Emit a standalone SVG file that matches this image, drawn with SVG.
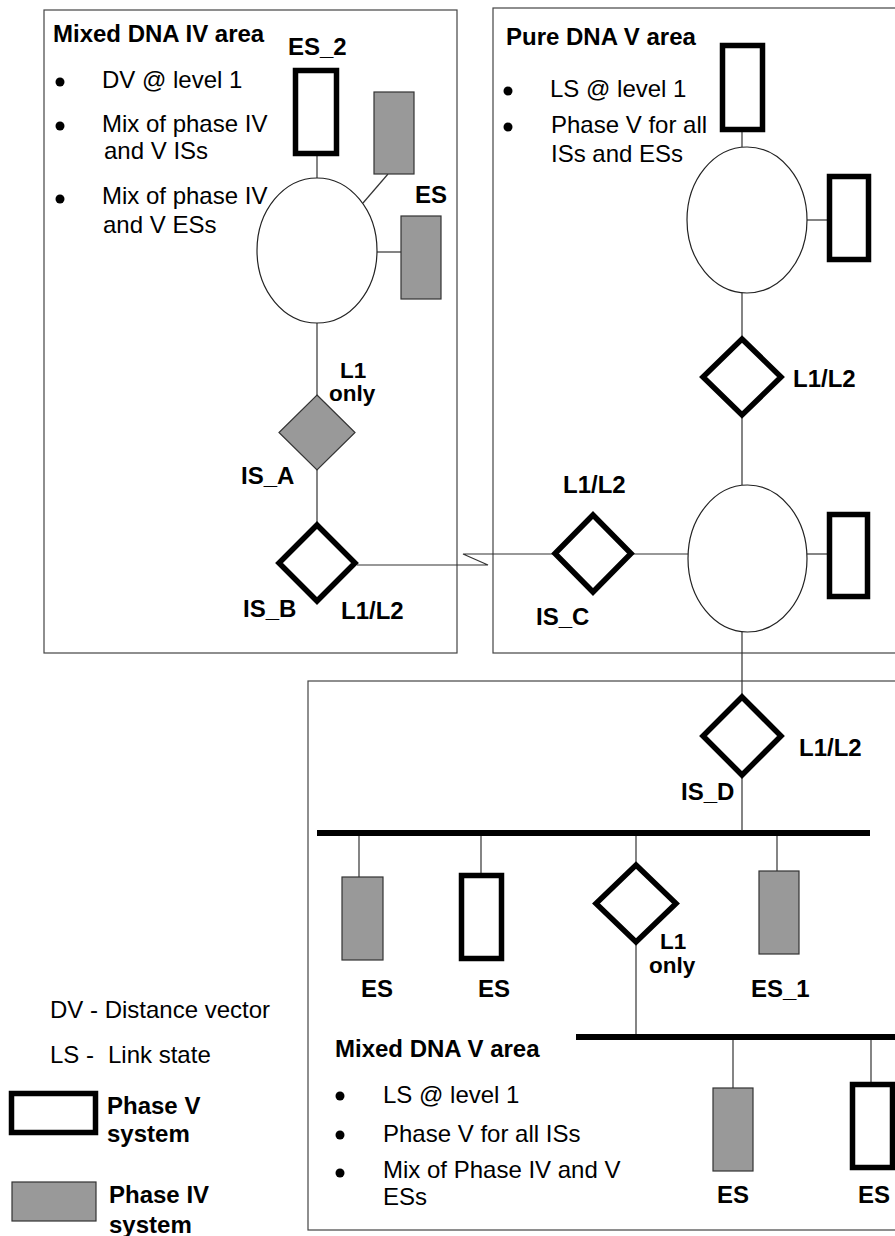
<svg xmlns="http://www.w3.org/2000/svg" width="895" height="1236" viewBox="0 0 895 1236">
<style>
text{font-family:"Liberation Sans",Arial,sans-serif;font-size:24px;fill:#000}
.b{font-weight:bold}
.s{font-size:22.5px}
.area{fill:none;stroke:#444;stroke-width:1.2}
.ln{fill:none;stroke:#333;stroke-width:1.2}
.bus{stroke:#000;stroke-width:6}
.p5{fill:#fff;stroke:#000;stroke-width:5.5}
.p4{fill:#999;stroke:#333;stroke-width:1.2}
.lan{fill:#fff;stroke:#222;stroke-width:1.2}
.dot{fill:#000}
</style>
<rect width="895" height="1236" fill="#fff"/>

<g id="areas">
<rect class="area" x="44" y="10" width="413" height="643"/>
<rect class="area" x="493" y="8" width="410" height="645"/>
<rect class="area" x="308" y="681" width="595" height="549"/>
</g>

<g id="connectors">
<line class="ln" x1="317" y1="156" x2="317" y2="178"/>
<line class="ln" x1="363" y1="203" x2="388" y2="174"/>
<line class="ln" x1="377" y1="252" x2="401" y2="252"/>
<line class="ln" x1="317" y1="323" x2="317" y2="395"/>
<line class="ln" x1="317" y1="470" x2="317" y2="523"/>
<polyline class="ln" points="357,565 488,565 463,554 553,554"/>
<line class="ln" x1="633" y1="554" x2="688" y2="554"/>
<line class="ln" x1="807" y1="554" x2="827" y2="554"/>
<line class="ln" x1="742" y1="132" x2="742" y2="147"/>
<line class="ln" x1="807" y1="220" x2="827" y2="220"/>
<line class="ln" x1="742" y1="293" x2="742" y2="337"/>
<line class="ln" x1="742" y1="417" x2="742" y2="485"/>
<line class="ln" x1="742" y1="632" x2="742" y2="695"/>
<line class="ln" x1="742" y1="777" x2="742" y2="833"/>
<line class="ln" x1="359" y1="833" x2="359" y2="877"/>
<line class="ln" x1="481" y1="833" x2="481" y2="873"/>
<line class="ln" x1="636" y1="833" x2="636" y2="863"/>
<line class="ln" x1="777" y1="833" x2="777" y2="871"/>
<line class="ln" x1="636" y1="944" x2="636" y2="1037"/>
<line class="ln" x1="733" y1="1037" x2="733" y2="1088"/>
<line class="ln" x1="871" y1="1037" x2="871" y2="1082"/>
<line class="bus" x1="317" y1="833" x2="870" y2="833"/>
<line class="bus" x1="576" y1="1037" x2="900" y2="1037"/>
</g>

<g id="mixed-dna-iv-text">
<text class="b" x="53" y="42">Mixed DNA IV area</text>
<circle class="dot" cx="60" cy="82" r="4.5"/>
<text x="102" y="88">DV @ level 1</text>
<circle class="dot" cx="60" cy="126" r="4.5"/>
<text x="102" y="132">Mix of phase IV</text>
<text x="104" y="159">and V ISs</text>
<circle class="dot" cx="60" cy="199" r="4.5"/>
<text x="102" y="204">Mix of phase IV</text>
<text x="103" y="233">and V ESs</text>
</g>

<g id="lan-a"><ellipse class="lan" cx="317" cy="250.5" rx="60" ry="72.5"/></g>
<g id="es-2"><rect class="p5" x="295.5" y="70.5" width="41" height="83"/><text class="b" x="288" y="55">ES_2</text></g>
<g id="es-a1"><rect class="p4" x="374" y="92" width="40" height="82"/></g>
<g id="es-a2"><rect class="p4" x="401" y="216" width="40" height="83"/><text class="b" x="415" y="203">ES</text></g>
<g id="is-a"><polygon class="p4" points="317,395 355,432.5 317,470 279,432.5"/>
<text class="b s" x="340" y="378">L1</text><text class="b s" x="329" y="401">only</text>
<text class="b" x="241" y="484">IS_A</text></g>
<g id="is-b"><polygon class="p5" points="317,525 355,563 317,601 279,563"/>
<text class="b" x="243" y="617">IS_B</text><text class="b" x="341" y="619">L1/L2</text></g>

<g id="pure-dna-v-text">
<text class="b" x="506" y="45">Pure DNA V area</text>
<circle class="dot" cx="508" cy="91" r="4.5"/>
<text x="550" y="97">LS @ level 1</text>
<circle class="dot" cx="508" cy="127" r="4.5"/>
<text x="551" y="133">Phase V for all</text>
<text x="551" y="162">ISs and ESs</text>
</g>
<g id="es-top"><rect class="p5" x="722.5" y="45.5" width="40" height="84"/></g>
<g id="lan-b"><ellipse class="lan" cx="747" cy="220" rx="60" ry="73"/></g>
<g id="es-b1"><rect class="p5" x="829.5" y="176.5" width="39" height="83"/></g>
<g id="is-v"><polygon class="p5" points="742,339 781,377 742,415 703,377"/><text class="b" x="793" y="387">L1/L2</text></g>
<g id="lan-c"><ellipse class="lan" cx="747.5" cy="558.5" rx="59.5" ry="73.5"/></g>
<g id="es-c1"><rect class="p5" x="829.5" y="514.5" width="38" height="82"/></g>
<g id="is-c"><polygon class="p5" points="593,515 631,553.5 593,592 555,553.5"/>
<text class="b" x="563" y="493">L1/L2</text><text class="b" x="536" y="625">IS_C</text></g>

<g id="is-d"><polygon class="p5" points="742,697 781,736 742,775 703,736"/>
<text class="b" x="799" y="756">L1/L2</text><text class="b" x="681" y="800">IS_D</text></g>
<g id="es-d1"><rect class="p4" x="342" y="877" width="41" height="83"/><text class="b" x="361" y="997">ES</text></g>
<g id="es-d2"><rect class="p5" x="461.5" y="875.5" width="40" height="83"/><text class="b" x="478" y="997">ES</text></g>
<g id="is-e"><polygon class="p5" points="636,865 676,903.5 636,942 596,903.5"/>
<text class="b s" x="660" y="949">L1</text><text class="b s" x="649" y="973">only</text></g>
<g id="es-1"><rect class="p4" x="759" y="871" width="40" height="83"/><text class="b" x="751" y="997">ES_1</text></g>
<g id="es-e1"><rect class="p4" x="713" y="1088" width="40" height="83"/><text class="b" x="717" y="1203">ES</text></g>
<g id="es-e2"><rect class="p5" x="852.5" y="1084.5" width="40" height="83"/><text class="b" x="858" y="1203">ES</text></g>

<g id="mixed-dna-v-text">
<text class="b" x="335" y="1057">Mixed DNA V area</text>
<circle class="dot" cx="340" cy="1096" r="4.5"/>
<text x="383" y="1103">LS @ level 1</text>
<circle class="dot" cx="340" cy="1135" r="4.5"/>
<text x="383" y="1142">Phase V for all ISs</text>
<circle class="dot" cx="340" cy="1173" r="4.5"/>
<text x="383" y="1178">Mix of Phase IV and V</text>
<text x="383" y="1205">ESs</text>
</g>

<g id="legend">
<text x="50" y="1018">DV - Distance vector</text>
<text x="50" y="1063">LS -<tspan x="108">Link state</tspan></text>
<rect class="p5" x="11.5" y="1093.5" width="84" height="39"/>
<text class="b" x="107" y="1114">Phase V</text>
<text class="b" x="107" y="1142">system</text>
<rect class="p4" x="12" y="1182" width="84" height="39"/>
<text class="b" x="109" y="1203">Phase IV</text>
<text class="b" x="109" y="1233">system</text>
</g>
</svg>
